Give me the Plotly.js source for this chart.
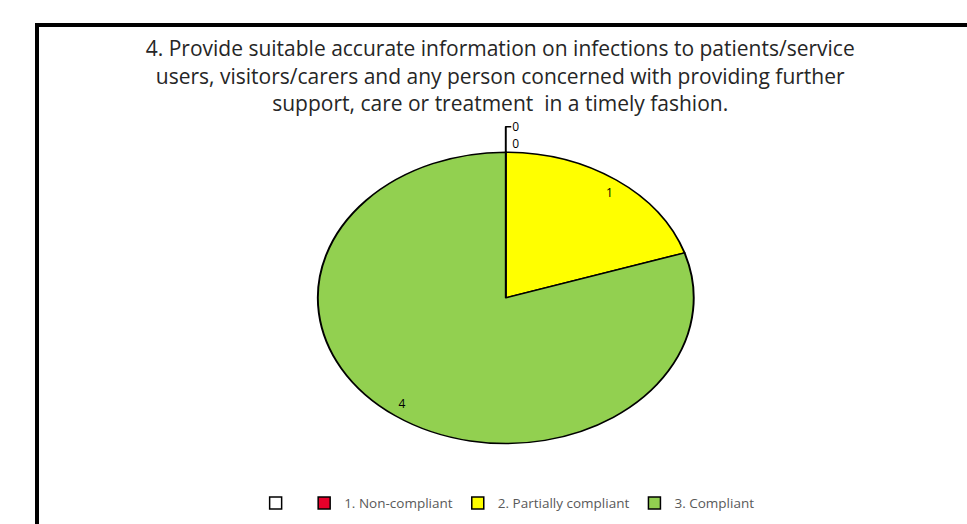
<!DOCTYPE html>
<html>
<head>
<meta charset="utf-8">
<script src="https://cdn.plot.ly/plotly-3.0.1.min.js"></script>
<style>
  html, body { margin: 0; padding: 0; background: #ffffff; width: 967px; height: 524px; overflow: hidden; }
  #frame { position: absolute; left: 35px; top: 23px; width: 960px; height: 540px; border-left: 4px solid #000; border-top: 4px solid #000; background: #fff; }
  #chart { position: absolute; left: 39px; top: 27px; width: 928px; height: 497px; }
</style>
</head>
<body>
<div id="frame"></div>
<div id="chart"></div>
<script>
const categories = [" ", "1. Non-compliant", "2. Partially compliant", "3. Compliant"];
const values = [0, 0, 1, 4];
const sliceColors = ["#ffffff", "#e8002a", "#ffff00", "#92d050"];
const titleText = "4. Provide suitable accurate information on infections to patients/service<br>users, visitors/carers and any person concerned with providing further<br>support, care or treatment  in a timely fashion.";
const stretchX = 1.29;

const labelFont = { family: "Open Sans, sans-serif", size: 12, color: "#000000" };

// main pie: draws slices and the outside "0" labels of empty categories
const pieMain = {
  type: "pie",
  labels: categories,
  values: values,
  sort: false,
  direction: "clockwise",
  rotation: 0,
  marker: { colors: sliceColors, line: { color: "#000000", width: 1.5 } },
  textinfo: "value",
  textposition: ["outside", "outside", "none", "none"],
  textfont: labelFont,
  outsidetextfont: labelFont,
  showlegend: true,
  hoverinfo: "label+value",
  domain: { x: [0.346, 0.660], y: [0.161, 0.749] }
};

// inner transparent pie: carries the value labels of non-empty slices closer to the rim
const pieLabels = {
  type: "pie",
  labels: categories,
  values: values,
  sort: false,
  direction: "clockwise",
  rotation: 0,
  marker: { colors: ["rgba(0,0,0,0)", "rgba(0,0,0,0)", "rgba(0,0,0,0)", "rgba(0,0,0,0)"], line: { width: 0 } },
  textinfo: "value",
  textposition: ["none", "none", "outside", "outside"],
  textfont: labelFont,
  outsidetextfont: labelFont,
  showlegend: false,
  hoverinfo: "skip",
  domain: { x: [0.3699, 0.6361], y: [0.2065, 0.7035] }
};

const layout = {
  width: 928,
  height: 497,
  margin: { l: 0, r: 0, t: 0, b: 0 },
  paper_bgcolor: "#ffffff",
  plot_bgcolor: "#ffffff",
  title: {
    text: titleText,
    x: 0.497, xanchor: "center",
    y: 0.941, yanchor: "middle",
    font: { family: "Open Sans, sans-serif", size: 21, color: "#262626" }
  },
  legend: {
    orientation: "h",
    x: 0.505, xanchor: "center",
    y: 0.042, yanchor: "middle",
    font: { family: "Open Sans, sans-serif", size: 13.5, color: "#595959" },
    traceorder: "normal"
  },
  showlegend: true
};

const gd = document.getElementById("chart");
Plotly.newPlot(gd, [pieMain, pieLabels], layout, { staticPlot: true }).then(function () {
  const sz = gd._fullLayout._size;
  const dom = gd._fullData[0].domain;
  const cx = sz.l + sz.w * (dom.x[0] + dom.x[1]) / 2;
  gd.querySelectorAll(".pielayer .trace").forEach(function (tr) {
    tr.setAttribute("transform", "translate(" + cx + ",0) scale(" + stretchX + ",1) translate(" + (-cx) + ",0)");
    tr.querySelectorAll("g.slicetext text").forEach(function (el) {
      const t = el.getAttribute("transform") || "";
      el.setAttribute("transform", t + " scale(" + (1 / stretchX) + ",1)");
    });
  });
});
</script>
</body>
</html>
